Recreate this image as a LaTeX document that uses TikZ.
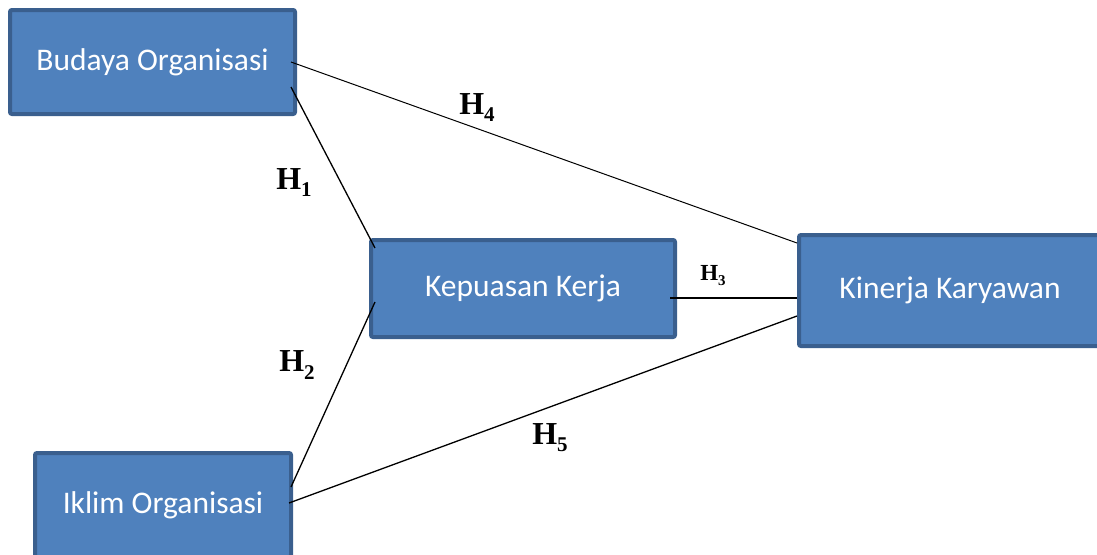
\documentclass[tikz,border=0pt]{standalone}
\usepackage{fontspec}
\setmainfont{Liberation Serif}
\newfontfamily\boxfont{Carlito}
\usetikzlibrary{calc}
\definecolor{boxfill}{HTML}{4F81BD}
\definecolor{boxline}{HTML}{3A5F8E}
\tikzset{
  varbox/.style={draw=boxline, fill=boxfill, line width=4pt, rounded corners=2pt,
    text=white, font=\boxfont\fontsize{31.5}{36}\selectfont, inner sep=0pt},
  link/.style={draw=black, line width=1.3pt},
  hyp/.style={font=\bfseries\fontsize{32}{36}\selectfont, inner sep=0pt},
  hypsmall/.style={font=\bfseries\fontsize{23}{26}\selectfont, inner sep=0pt}
}
\newcommand{\hsub}[1]{H\raisebox{-0.22em}{\fontsize{21}{23}\selectfont #1}}
\newcommand{\hsubsmall}[1]{H\raisebox{-0.22em}{\fontsize{15}{17}\selectfont #1}}
\begin{document}
\begin{tikzpicture}[x=1pt,y=-1pt]
\useasboundingbox (0,0) rectangle (1097,554);
\clip (0,0) rectangle (1097,554);
\node[varbox, minimum width=285pt, minimum height=104pt] (bo) at (152.5,62) {Budaya Organisasi};
\node[varbox, minimum width=304pt, minimum height=97pt] (kp) at (523,288.5) {Kepuasan Kerja};
\node[varbox, minimum width=302pt, minimum height=111pt] (kk) at (950,290.5) {Kinerja Karyawan};
\node[varbox, minimum width=256pt, minimum height=104pt] (io) at (163,505) {Iklim Organisasi};
\draw[link, line width=1pt] ([xshift=-6pt]bo.east) -- ([yshift=-10pt]kk.north west);
\draw[link] ([xshift=-6pt,yshift=-25pt]bo.east) -- ([xshift=6pt,yshift=-10pt]kp.north west);
\draw[link] ([xshift=-2pt,yshift=-36pt]io.north east) -- ([xshift=6pt,yshift=-13.5pt]kp.west);
\draw[link] ([xshift=-4pt,yshift=2pt]io.east) -- ([yshift=-25.5pt]kk.west);
\draw[link] ([xshift=-7pt,yshift=-9.5pt]kp.east) -- ([yshift=-7.5pt]kk.west);
\node[hyp] (h4) at (477,108) {\hsub{4}};
\node[hyp] (h1) at (294,183) {\hsub{1}};
\node[hyp] (h2) at (297,365) {\hsub{2}};
\node[hyp] (h5) at (550,438) {\hsub{5}};
\node[hypsmall] (h3) at (713,276) {\hsubsmall{3}};
\end{tikzpicture}
\end{document}
